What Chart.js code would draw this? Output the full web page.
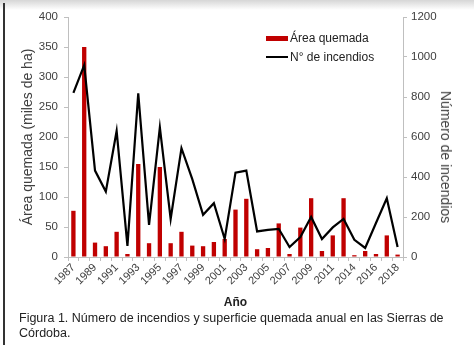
<!DOCTYPE html>
<html>
<head>
<meta charset="utf-8">
<script src="https://cdn.jsdelivr.net/npm/chart.js@4/dist/chart.umd.min.js"></script>
<style>
  html, body { margin:0; padding:0; background:#fff; }
  #wrap { position:relative; width:474px; height:348px; overflow:hidden; font-family:'Liberation Sans', Arial, sans-serif; }
  #c { position:absolute; left:0; top:0; }
  .abs { position:absolute; white-space:nowrap; }
  #topband { left:0; top:0; width:474px; height:10px; background:linear-gradient(#d6d6d6, #ffffff); }
  #frame { left:3px; top:3px; width:2px; height:342px; background:#333; }
  .lgtxt { font-size:12px; color:#222; line-height:14px; }
  #rtitle { left:446px; top:157px; font-size:14px; color:#404040; transform:translate(-50%,-50%) rotate(90deg); }
  #caption { left:19px; top:310.5px; font-size:12.5px; line-height:15.5px; color:#222; }
</style>
</head>
<body>
<div id="wrap">
  <canvas id="c" width="474" height="348"></canvas>
  <div class="abs" id="topband"></div>
  <div class="abs" id="frame"></div>
  <div class="abs" style="left:266px; top:36px; width:22px; height:5px; background:#c00000;"></div>
  <div class="abs lgtxt" style="left:290px; top:31px;">Área quemada</div>
  <div class="abs" style="left:266px; top:56px; width:22px; height:2px; background:#000;"></div>
  <div class="abs lgtxt" style="left:290px; top:50px;">N° de incendios</div>
  <div class="abs" id="rtitle">Número de incendios</div>
  <div class="abs" id="caption">Figura 1. Número de incendios y superficie quemada anual en las Sierras de<br>Córdoba.</div>
</div>
<script>
const years = ['1987','1988','1989','1990','1991','1992','1993','1994','1995','1996',
               '1997','1998','1999','2000','2001','2002','2003','2004','2005','2006',
               '2007','2008','2009','2010','2011','2013','2014','2015','2016','2017','2018'];
const areaQuemada = [77, 350, 24, 18, 42, 5, 155, 23, 150, 23,
                     42, 19, 18, 25, 30, 79, 97, 13, 15, 56,
                     5, 49, 98, 10, 36, 98, 3, 10, 5, 36, 4];
const nIncendios = [821, 959, 432, 327, 630, 56, 818, 161, 648, 190,
                    544, 389, 211, 269, 90, 422, 432, 128, 136, 141,
                    50, 100, 200, 90, 148, 190, 86, 45, 170, 294, 50];
const leftTicks = [0, 50, 100, 150, 200, 250, 300, 350, 400];
const rightTicks = [0, 200, 400, 600, 800, 1000, 1200];

const FONT = "'Liberation Sans', Arial, sans-serif";
const TICKCOL = '#404040';
const AXCOL = '#bfbfbf';

new Chart(document.getElementById('c'), {
  data: {
    labels: years,
    datasets: [
      { type:'line', label:'N° de incendios', data:nIncendios, yAxisID:'y1', order:0,
        borderColor:'#000', borderWidth:2.2, pointRadius:0, tension:0, fill:false },
      { type:'bar', label:'Área quemada', data:areaQuemada, yAxisID:'y', order:1,
        backgroundColor:'#c00000', barPercentage:0.4, categoryPercentage:1.0 }
    ]
  },
  options: {
    responsive:false,
    animation:false,
    devicePixelRatio:1,
    layout:{ padding:{ top:17, left:0, right:0, bottom:35 } },
    plugins:{ legend:{ display:false }, tooltip:{ enabled:false } },
    scales:{
      x:{
        offset:true,
        grid:{ offset:true, drawOnChartArea:false, drawTicks:true, tickLength:4, color:AXCOL },
        border:{ color:AXCOL, width:1 },
        ticks:{ autoSkip:false, maxRotation:45, minRotation:45, padding:0,
                font:{ size:11, family:FONT }, color:TICKCOL,
                callback:(v,i)=> (i % 2 === 0 ? years[i] : '') },
        title:{ display:true, text:'Año', color:'#222', font:{ size:12, weight:'bold', family:FONT },
                padding:{ top:0, bottom:3 } },
        afterFit:(s)=>{ s.height = 56; }
      },
      y:{
        position:'left', min:0, max:400,
        afterBuildTicks:(s)=>{ s.ticks = leftTicks.map(v=>({value:v})); },
        grid:{ drawOnChartArea:false, drawTicks:true, tickLength:4, color:AXCOL },
        border:{ color:AXCOL, width:1 },
        ticks:{ padding:6, font:{ size:11.5, family:FONT }, color:TICKCOL,
                callback:(v)=> String(v) },
        title:{ display:true, text:'Área quemada (miles de ha)', color:'#404040',
                font:{ size:14, family:FONT }, padding:{ top:20, bottom:0 } },
        afterFit:(s)=>{ s.width = 68; }
      },
      y1:{
        position:'right', min:0, max:1200,
        afterBuildTicks:(s)=>{ s.ticks = rightTicks.map(v=>({value:v})); },
        grid:{ drawOnChartArea:false, drawTicks:true, tickLength:4, color:AXCOL },
        border:{ color:AXCOL, width:1 },
        ticks:{ padding:4, font:{ size:11.5, family:FONT }, color:TICKCOL,
                callback:(v)=> String(v) },
        afterFit:(s)=>{ s.width = 71; }
      }
    }
  }
});
</script>
</body>
</html>
